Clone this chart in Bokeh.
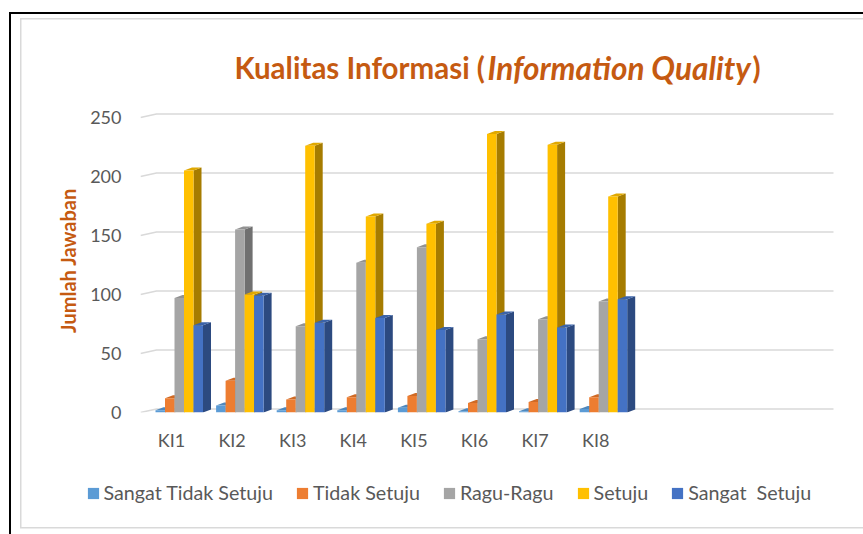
from bokeh.plotting import figure
from bokeh.layouts import column
from bokeh.models import (ColumnDataSource, FixedTicker, Label, Legend, LegendItem, Range1d)
from bokeh.embed import file_html
from bokeh.resources import INLINE

# ---------------- data ----------------
categories = ["KI1", "KI2", "KI3", "KI4", "KI5", "KI6", "KI7", "KI8"]
series_names = ["Sangat Tidak Setuju", "Tidak Setuju", "Ragu-Ragu", "Setuju", "Sangat  Setuju"]
sangat_tidak_setuju = [2, 6, 2, 2, 4, 1, 1, 3]
tidak_setuju = [12, 27, 11, 13, 14, 8, 9, 13]
ragu_ragu = [97, 155, 73, 127, 140, 62, 79, 94]
setuju = [205, 100, 226, 166, 160, 236, 227, 183]
sangat_setuju = [74, 99, 76, 80, 70, 83, 72, 96]
y_ticks = [0, 50, 100, 150, 200, 250]

series_values = [sangat_tidak_setuju, tidak_setuju, ragu_ragu, setuju, sangat_setuju]
front_colors = ["#5B9BD5", "#ED7D31", "#A5A5A5", "#FFC000", "#4472C4"]
side_colors = ["#3C6E9E", "#A9541C", "#707070", "#A67C00", "#2C4A80"]
top_colors = ["#4F88BD", "#D06A25", "#929292", "#E0A800", "#3B63A8"]

# ---------------- layout (page px) ----------------
W, H = 863, 534
HT = 100                               # title strip height
HL = 64                                # legend strip height
HM = H - HT - HL                       # main chart height
FL, FR, FTOP, FB = 140, 863, 108, 412  # main frame edges (page px)
PXC = 60.6                             # px per category
PXU = 295 / 250                        # px per value unit
x_start = 1 - 31 / PXC
x_end = x_start + (FR - FL) / PXC
y_end = (FB - FTOP) / PXU


def fx(px):
    return x_start + (px - FL) / PXC


FONT = "Lato"
GREY = "#595959"
ACCENT = "#C55A11"


def strip(height):
    f = figure(width=W, height=height, output_backend="svg", toolbar_location=None,
               x_axis_type=None, y_axis_type=None,
               x_range=Range1d(0, W), y_range=Range1d(0, height),
               min_border_left=0, min_border_right=0, min_border_top=0,
               min_border_bottom=0)
    f.frame_align = False
    f.outline_line_color = None
    f.background_fill_color = None
    f.border_fill_color = None
    f.xgrid.visible = False
    f.ygrid.visible = False
    return f


# ---------------- title strip ----------------
pt = strip(HT)
for txt, px, style, size in [("Kualitas Informasi (", 234, "bold", "29.5px"),
                             ("Information Quality", 487, "bold italic", "31.5px"),
                             (")", 752, "bold", "29.5px")]:
    pt.add_layout(Label(x=px, y=HT - 67, text=txt, text_font=FONT, text_font_size=size,
                        text_font_style=style, text_color=ACCENT,
                        text_align="left", text_baseline="middle"))

# ---------------- main chart ----------------
p = figure(width=W, height=HM, output_backend="svg", toolbar_location=None,
           x_range=Range1d(x_start, x_end), y_range=Range1d(0, y_end),
           min_border_left=FL, min_border_right=W - FR,
           min_border_top=FTOP - HT, min_border_bottom=HT + HM - FB)
p.frame_align = False
p.outline_line_color = None
p.xgrid.visible = False
p.ygrid.visible = False
p.background_fill_color = None
p.border_fill_color = None

# gridlines with the little 3D wall slant at left
g_dy = 3.5 / PXU
gx = [[x_start, fx(156), fx(833)] for _ in y_ticks]
gy = [[t, t + g_dy, t + g_dy] for t in y_ticks]
p.multi_line(gx, gy, line_color="#D9D9D9", line_width=1.5)

# 3D-like bars
w = 9.5 / PXC
off = -16 / PXC
dx = 8 / PXC
dy = 3 / PXU
sources = []
for i, vals in enumerate(series_values):
    lefts = [j + 1 + off + i * w for j in range(len(categories))]
    rights = [l + w for l in lefts]
    side_xs = [[r, r + dx, r + dx, r] for r in rights]
    side_ys = [[0, dy, v + dy, v] for v in vals]
    top_xs = [[l, l + dx, r + dx, r] for l, r in zip(lefts, rights)]
    top_ys = [[v, v + dy, v + dy, v] for v in vals]
    p.patches(side_xs, side_ys, fill_color=side_colors[i], line_color=None)
    p.patches(top_xs, top_ys, fill_color=top_colors[i], line_color=None)
    src = ColumnDataSource(dict(left=lefts, right=rights, top=vals,
                                bottom=[0] * len(vals)))
    sources.append(src)
    p.quad(left="left", right="right", top="top", bottom="bottom", source=src,
           fill_color=front_colors[i], line_color=None)

# axes
p.xaxis.ticker = FixedTicker(ticks=list(range(1, len(categories) + 1)))
p.xaxis.major_label_overrides = {i + 1: c for i, c in enumerate(categories)}
p.yaxis.ticker = FixedTicker(ticks=y_ticks)
for ax in (p.xaxis[0], p.yaxis[0]):
    ax.axis_line_color = None
    ax.major_tick_line_color = None
    ax.minor_tick_line_color = None
    ax.major_label_text_font = FONT
    ax.major_label_text_font_size = "18px"
    ax.major_label_text_color = GREY
p.xaxis.major_label_standoff = 10
p.yaxis.major_label_standoff = 13
p.yaxis.axis_label = "Jumlah Jawaban"
p.yaxis.axis_label_text_font = FONT
p.yaxis.axis_label_text_font_style = "bold"
p.yaxis.axis_label_text_font_size = "20px"
p.yaxis.axis_label_text_color = ACCENT
p.yaxis.axis_label_standoff = 7

# ---------------- legend strip ----------------
pl = strip(HL)
legend_items = []
for i, name in enumerate(series_names):
    r = pl.quad(left="left", right="right", top="top", bottom="bottom",
                source=sources[i], fill_color=front_colors[i], line_color=None,
                visible=False)
    legend_items.append(LegendItem(label=name, renderers=[r]))
legend = Legend(items=legend_items, orientation="horizontal", location=(85.5, 30),
                label_text_font=FONT, label_text_font_size="19.7px",
                label_text_color=GREY, glyph_width=14, glyph_height=14,
                label_standoff=4, spacing=22, padding=0, margin=0,
                border_line_color=None, background_fill_alpha=0,
                inactive_fill_alpha=0)
pl.add_layout(legend, "center")

layout = column(pt, p, pl, spacing=0, styles={
    "background": (
        "linear-gradient(#000,#000) 9px 12px / 2px 600px no-repeat, "
        "linear-gradient(#000,#000) 9px 12px / 900px 2px no-repeat, "
        "linear-gradient(#D9D9D9,#D9D9D9) 20px 18px / 1.5px 510px no-repeat, "
        "linear-gradient(#D9D9D9,#D9D9D9) 20px 18px / 900px 1.5px no-repeat, "
        "linear-gradient(#D9D9D9,#D9D9D9) 20px 526.5px / 900px 1.5px no-repeat, "
        "#ffffff"
    )
})

open("out.html", "w").write(file_html(layout, INLINE))
